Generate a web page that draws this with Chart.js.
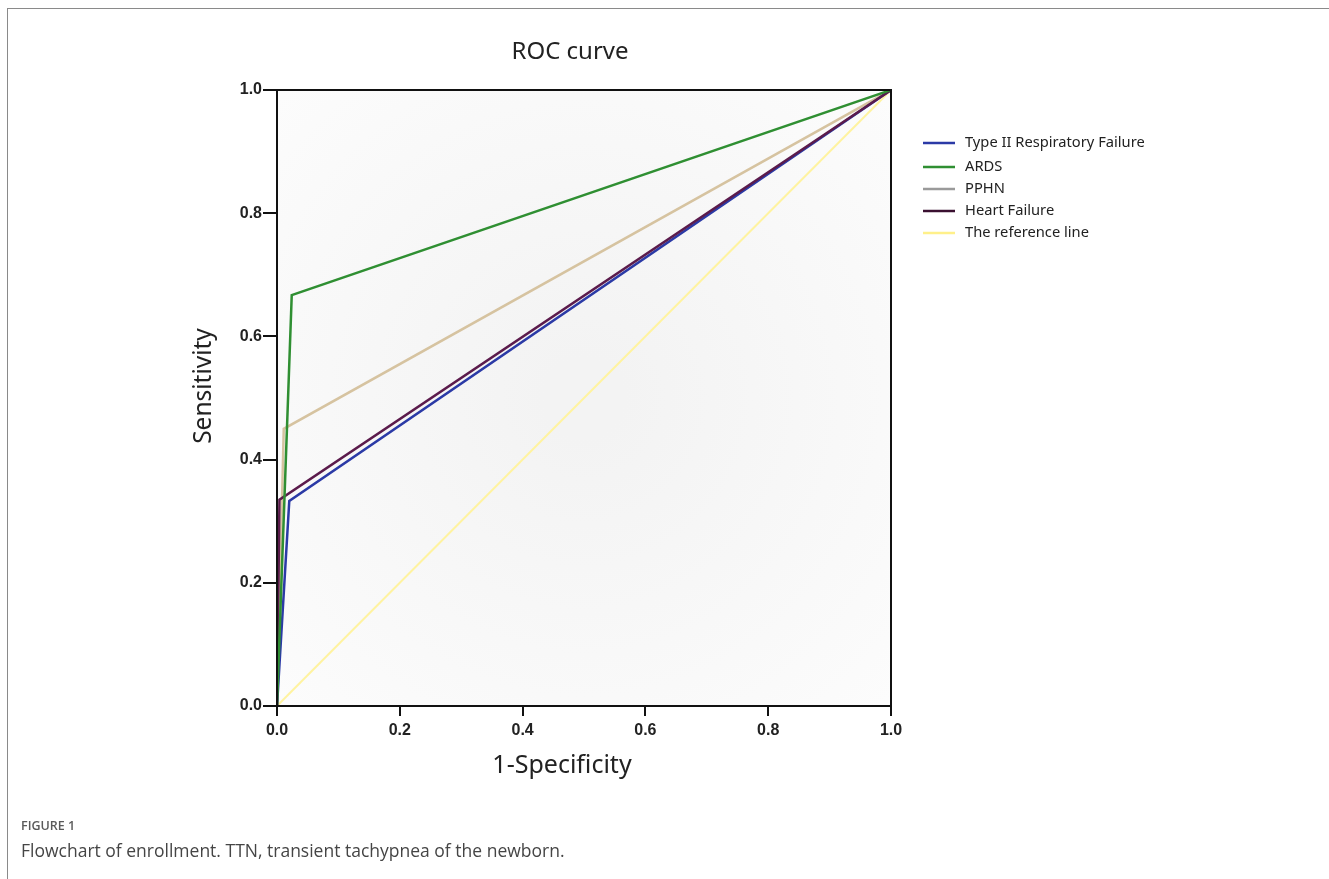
<!DOCTYPE html>
<html>
<head>
<meta charset="utf-8">
<script src="https://cdn.jsdelivr.net/npm/chart.js@4"></script>
<style>
  body { margin: 0; background: #fff; width: 1329px; height: 879px; overflow: hidden; position: relative; }
  #frame { position: absolute; left: 7px; top: 8px; right: 0; bottom: 0; border-left: 1.5px solid #8a8a8a; border-top: 1.5px solid #8a8a8a; }
  #wrap { position: absolute; left: 0; top: 0; width: 1329px; height: 879px; }
  .fig { position: absolute; left: 21px; top: 817px; font-family: "Open Sans", sans-serif; font-size: 12.5px; font-weight: 600; color: #5a5a5a; }
  .cap { position: absolute; left: 21px; top: 838px; font-family: "Open Sans", sans-serif; font-size: 17.5px; color: #454545; }
</style>
</head>
<body>
<div id="frame"></div>
<div id="wrap"><canvas id="roc" width="1329" height="879"></canvas></div>
<div class="fig">FIGURE 1</div>
<div class="cap">Flowchart of enrollment. TTN, transient tachypnea of the newborn.</div>
<script>
// series (1-specificity, sensitivity)
const seriesNames = ['Type II Respiratory Failure', 'ARDS', 'PPHN', 'Heart Failure', 'The reference line'];
const typeIIX = [0, 0.02, 1];
const typeIIY = [0, 0.333, 1];
const ardsX = [0, 0.024, 1];
const ardsY = [0, 0.667, 1];
const pphnX = [0, 0.011, 1];
const pphnY = [0, 0.45, 1];
const heartX = [0, 0.004, 1];
const heartY = [0, 0.335, 1];
const refX = [0, 1];
const refY = [0, 1];
const lineColors = ['#2b3aa6', '#2f8f32', '#d6c3a0', '#5b1b4c', '#fff3a0'];
const legendColors = ['#2b3aa6', '#2f8f32', '#9a9a9a', '#3a1030', '#fff08a'];
const drawOrder = [2, 0, 3, 1, 4]; // lower = on top
const tickValues = [0, 0.2, 0.4, 0.6, 0.8, 1.0];

function pts(xs, ys) {
  return xs.map((x, i) => ({ x: x, y: ys[i] }));
}

const allX = [typeIIX, ardsX, pphnX, heartX, refX];
const allY = [typeIIY, ardsY, pphnY, heartY, refY];

const datasets = seriesNames.map((name, i) => ({
  label: name,
  data: pts(allX[i], allY[i]),
  borderColor: lineColors[i],
  borderWidth: i === 4 ? 2 : 2.5,
  showLine: true,
  pointRadius: 0,
  tension: 0,
  order: drawOrder[i]
}));

const tickFont = { family: '"Liberation Sans", Arial, sans-serif', size: 16, weight: 'bold' };

const boxAndText = {
  id: 'boxAndText',
  beforeDatasetsDraw(chart) {
    const { ctx, chartArea: a } = chart;
    ctx.save();
    const g = ctx.createRadialGradient((a.left + a.right) / 2, (a.top + a.bottom) / 2, 40,
      (a.left + a.right) / 2, (a.top + a.bottom) / 2, 430);
    g.addColorStop(0, '#f3f3f3');
    g.addColorStop(1, '#fcfcfc');
    ctx.fillStyle = g;
    ctx.fillRect(a.left, a.top, a.right - a.left, a.bottom - a.top);
    ctx.restore();
  },
  afterDraw(chart) {
    const { ctx, chartArea: a } = chart;
    ctx.save();
    ctx.strokeStyle = '#111';
    ctx.lineWidth = 2;
    ctx.strokeRect(a.left, a.top, a.right - a.left, a.bottom - a.top);

    ctx.fillStyle = '#222';
    ctx.textAlign = 'center';
    ctx.textBaseline = 'middle';
    ctx.font = '24px "Noto Sans", sans-serif';
    ctx.fillText('ROC curve', 570, 52);
    ctx.font = '25px "Noto Sans", sans-serif';
    ctx.fillText('1-Specificity', 562, 766);
    ctx.save();
    ctx.translate(204, 386);
    ctx.rotate(-Math.PI / 2);
    ctx.font = '24.5px "Noto Sans", sans-serif';
    ctx.fillText('Sensitivity', 0, 0);
    ctx.restore();

    // legend
    ctx.textAlign = 'left';
    ctx.font = '14.7px "Noto Sans", sans-serif';
    const rows = [143, 167, 189, 211, 233];
    seriesNames.forEach((name, i) => {
      ctx.strokeStyle = legendColors[i];
      ctx.lineWidth = 2.5;
      ctx.beginPath();
      ctx.moveTo(923, rows[i]);
      ctx.lineTo(955, rows[i]);
      ctx.stroke();
      ctx.fillStyle = '#222';
      ctx.fillText(name, 965, rows[i]);
    });
    ctx.restore();
  }
};

new Chart(document.getElementById('roc'), {
  type: 'scatter',
  data: { datasets: datasets },
  options: {
    responsive: false,
    animation: false,
    layout: { padding: { left: 217, right: 438, top: 90, bottom: 133 } },
    plugins: { legend: { display: false }, tooltip: { enabled: false } },
    scales: {
      x: {
        type: 'linear', min: 0, max: 1,
        afterBuildTicks(s) { s.ticks = tickValues.map(v => ({ value: v })); },
        afterFit(s) { s.height = 40; },
        ticks: { callback: v => v.toFixed(1), color: '#222', padding: 5, font: tickFont },
        grid: { drawOnChartArea: false, tickLength: 10, color: '#111', lineWidth: 2 },
        border: { color: '#111', width: 2 }
      },
      y: {
        type: 'linear', min: 0, max: 1,
        afterBuildTicks(s) { s.ticks = tickValues.map(v => ({ value: v })); },
        afterFit(s) { s.width = 60; },
        ticks: { callback: v => v.toFixed(1), color: '#222', padding: 1, font: tickFont },
        grid: { drawOnChartArea: false, tickLength: 14, color: '#111', lineWidth: 2 },
        border: { color: '#111', width: 2 }
      }
    }
  },
  plugins: [boxAndText]
});
</script>
</body>
</html>
